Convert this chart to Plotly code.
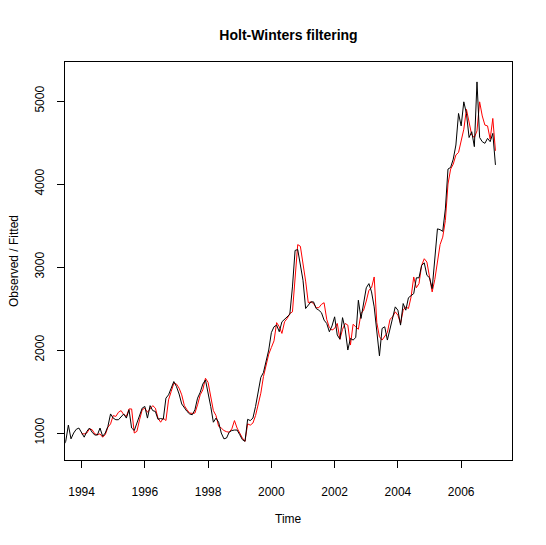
import numpy as np
import plotly.graph_objects as go

# observed series, monthly, Jun 1993 .. Feb 2007
observed_start = (1993, 6)
observed = [
    840, 900, 1096, 930, 1000, 1045, 1060,
    1010, 950, 1020, 1060, 1010, 976, 976, 1060, 960, 1000, 1080, 1230,
    1180, 1160, 1160, 1200, 1230, 1180, 1280, 1060, 1030, 1120, 1220, 1300,
    1320, 1180, 1330, 1270, 1260, 1165, 1175, 1165, 1420, 1460, 1540, 1620,
    1560, 1470, 1350, 1300, 1260, 1230, 1220, 1280, 1420, 1490, 1590, 1640,
    1500, 1320, 1130, 1180, 1130, 1000, 930, 940, 1010, 1030, 1036, 1036,
    980, 920, 900, 1165, 1150, 1180, 1320, 1480, 1670, 1730, 1850, 2000,
    2210, 2280, 2300, 2220, 2340, 2370, 2390, 2430, 2760, 3200, 3210, 3040,
    2840, 2500, 2540, 2580, 2580, 2500, 2480, 2450, 2360, 2320, 2220, 2290,
    2400, 2180, 2130, 2390, 2250, 2000, 2140, 2120, 2150, 2600, 2380, 2560,
    2750, 2800, 2700, 2520, 2230, 1930, 2260, 2280, 2120, 2250, 2400, 2520,
    2480, 2300, 2560, 2480, 2630, 2660, 2680, 2870, 2870, 3020, 3050, 2900,
    2870, 2740, 3150, 3460, 3450, 3430, 3700, 4180, 4200, 4300, 4470, 4850,
    4700, 4990, 4850, 4560, 4630, 4450, 5230, 4560, 4510, 4490, 4550, 4510,
    4610, 4230,
]

# fitted series, monthly, Jan 1994 .. Feb 2007
fitted_start = (1994, 1)
fitted = [
    990, 990, 1000, 1050, 1040, 990, 980, 990, 950, 980, 1070, 1110,
    1210, 1200, 1250, 1270, 1220, 1200, 1290, 1290, 1000, 1020, 1160, 1280,
    1300, 1250, 1290, 1330, 1300, 1180, 1130, 1180, 1150, 1400, 1500, 1600,
    1590, 1540, 1460, 1330, 1280, 1240, 1237, 1240, 1340, 1460, 1520, 1660,
    1610, 1420, 1270, 1210, 1080, 1060, 1030, 1016, 1010, 1050, 1150, 1060,
    1000, 940, 900, 1110, 1095, 1120, 1210, 1340, 1480, 1680, 1800, 1950,
    2030, 2110, 2330, 2280, 2200, 2340, 2380, 2440, 2460, 2850, 3270, 3250,
    3060, 2830, 2570, 2580, 2560, 2510, 2510, 2550, 2570, 2370, 2270, 2240,
    2260, 2320, 2130, 2250, 2320, 2300, 2060, 2310, 2280, 2250, 2440, 2480,
    2590, 2720, 2750, 2880, 2330, 2160, 2120, 2170, 2210, 2370, 2400, 2460,
    2420, 2320, 2480, 2520, 2500, 2640, 2880, 2750, 2800, 3020, 3100, 3060,
    2900, 2700, 2850, 3070, 3270, 3360, 3560, 4000, 4180, 4240, 4350, 4380,
    4520, 4660, 4900, 4720, 4590, 4560, 4640, 4990, 4820, 4710, 4700, 4540,
    4790, 4400,
]

x_ticks = [1994, 1996, 1998, 2000, 2002, 2004, 2006]
y_ticks = [1000, 2000, 3000, 4000, 5000]


def ts_time(start, n):
    year, month = start
    return year + (month - 1) / 12 + np.arange(n) / 12


t_obs = ts_time(observed_start, len(observed))
t_fit = ts_time(fitted_start, len(fitted))

# R style axis limits: fitted time span + 4% each side
span = t_fit[-1] - t_fit[0]
x_range = [t_fit[0] - 0.04 * span, t_fit[-1] + 0.04 * span]
y_range = [675, 5470]

FONT = "Liberation Sans, Arial, sans-serif"
W, H = 546, 545
OFF = 8  # page body margin
L, R, T, B = 65 - OFF, W - 512 + OFF, 62 - OFF, H - 460 + OFF
PW, PH = W - L - R, H - T - B

fig = go.Figure()
fig.add_trace(go.Scatter(x=t_fit, y=fitted, mode="lines",
                         line=dict(color="#ff0000", width=1), showlegend=False))
fig.add_trace(go.Scatter(x=t_obs, y=observed, mode="lines",
                         line=dict(color="#000000", width=1), showlegend=False))

axis_common = dict(
    showgrid=False, zeroline=False, showline=True, mirror=True,
    linecolor="black", linewidth=1, ticks="outside", ticklen=7,
    tickwidth=1, tickcolor="black", tickfont=dict(family=FONT, size=12, color="black"),
)

fig.update_xaxes(range=x_range, tickvals=x_ticks, ticklabelstandoff=14, **axis_common)
fig.update_yaxes(range=y_range, tickvals=y_ticks, tickangle=-90, ticklabelstandoff=8,
                 **axis_common)

fig.update_layout(
    width=W, height=H,
    margin=dict(l=L, r=R, t=T, b=B),
    paper_bgcolor="white", plot_bgcolor="white",
    font=dict(family=FONT, size=12, color="black"),
    title=dict(text="<b>Holt-Winters filtering</b>", x=(L + PW / 2) / W, xanchor="center",
               y=1 - (35 - OFF) / H, yanchor="middle", font=dict(family=FONT, size=14)),
    annotations=[
        dict(text="Time", xref="paper", yref="paper", x=0.5, y=-(519 - 460) / PH,
             xanchor="center", yanchor="middle", showarrow=False,
             font=dict(family=FONT, size=12)),
        dict(text="Observed / Fitted", xref="paper", yref="paper", x=-(65 - 14) / PW,
             y=0.5, xanchor="center", yanchor="middle", textangle=-90, showarrow=False,
             font=dict(family=FONT, size=12)),
    ],
)

fig.write_html("out.html")
